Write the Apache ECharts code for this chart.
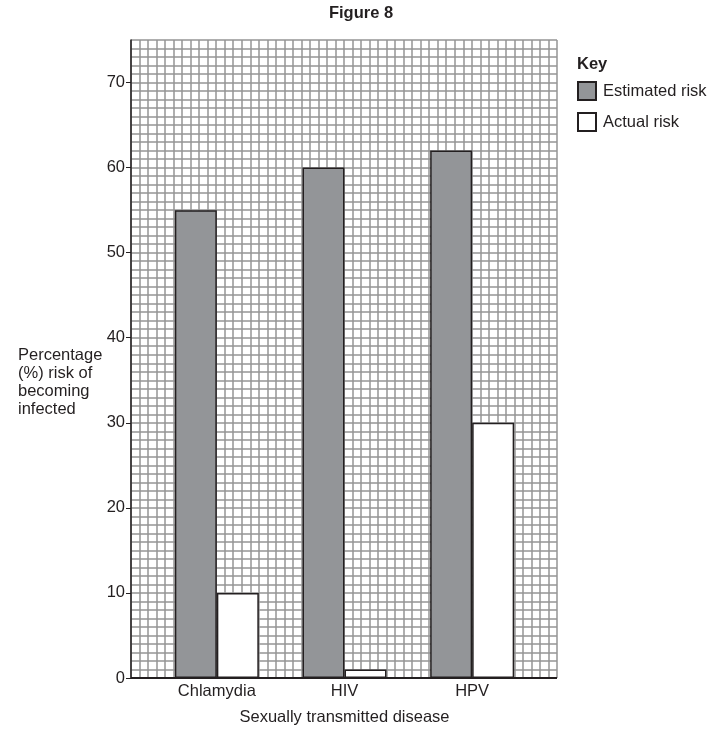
<!DOCTYPE html>
<html>
<head>
<meta charset="utf-8">
<script src="https://cdn.jsdelivr.net/npm/echarts@6/dist/echarts.min.js"></script>
<style>
  html, body { margin: 0; padding: 0; background: #fff; }
  #chart { width: 722px; height: 742px; }
</style>
</head>
<body>
<div id="chart"></div>
<script>
// data
var diseases = ['Chlamydia', 'HIV', 'HPV']
var estimatedRisk = [55, 60, 62]
var actualRisk = [10, 1, 30]
var yTicks = [0, 10, 20, 30, 40, 50, 60, 70]

var font = 'Liberation Sans, Arial, sans-serif'
var chart = echarts.init(document.getElementById('chart'))

chart.setOption({
    backgroundColor: '#fff',
    animation: false,
    title: {
        text: 'Figure 8',
        left: 356,
        top: 0,
        textAlign: 'center',
        textStyle: { fontFamily: font, fontSize: 16.5, fontWeight: 'bold', color: '#231f20' }
    },
    legend: {
        orient: 'vertical',
        left: 577,
        top: 81,
        padding: 0,
        itemWidth: 18,
        itemHeight: 18,
        itemGap: 11,
        icon: 'rect',
        textStyle: { fontFamily: font, fontSize: 16.5, color: '#231f20', padding: [0, 0, 0, 2] },
        data: ['Estimated risk', 'Actual risk']
    },
    graphic: [{
        type: 'text',
        left: 577,
        top: 56,
        style: { text: 'Key', font: 'bold 16.5px ' + font, fill: '#231f20' }
    }, {
        type: 'text',
        left: 18,
        top: 346,
        style: {
            text: 'Percentage\n(%) risk of\nbecoming\ninfected',
            font: '16.5px ' + font,
            lineHeight: 18,
            fill: '#231f20'
        }
    }],
    grid: [
        // graph paper background
        { left: 131, right: 165, top: 40, bottom: 64 },
        // bars
        { left: 153, right: 186, top: 40, bottom: 64 }
    ],
    xAxis: [{
        type: 'value',
        gridIndex: 0,
        min: 0,
        max: 50,
        interval: 1,
        axisLine: { show: false },
        axisTick: { show: false },
        axisLabel: { show: false },
        splitLine: { lineStyle: { color: '#949494', width: 1.5 } }
    }, {
        type: 'category',
        gridIndex: 1,
        data: diseases,
        axisLine: { show: false },
        axisTick: { show: false },
        axisLabel: { fontFamily: font, fontSize: 16.5, color: '#231f20', margin: 5 },
        name: 'Sexually transmitted disease',
        nameLocation: 'middle',
        nameGap: 31,
        nameTextStyle: { fontFamily: font, fontSize: 16.5, color: '#231f20' }
    }],
    yAxis: [{
        type: 'value',
        gridIndex: 0,
        min: 0,
        max: 75,
        interval: 1,
        axisLine: { show: false },
        axisTick: { show: false },
        axisLabel: { show: false },
        splitLine: { lineStyle: { color: '#949494', width: 1.5 } }
    }, {
        type: 'value',
        gridIndex: 1,
        min: 0,
        max: 75,
        interval: 10,
        splitLine: { show: false },
        axisLine: { show: false },
        axisTick: { show: false },
        axisLabel: { show: false }
    }, {
        // left axis with ticks and labels
        type: 'value',
        gridIndex: 0,
        position: 'left',
        offset: 0,
        min: 0,
        max: 75,
        interval: 10,
        splitLine: { show: false },
        axisLine: { show: true, onZero: false, lineStyle: { color: '#231f20', width: 1.5 } },
        axisTick: { show: true, length: 5, customValues: yTicks, lineStyle: { color: '#231f20', width: 1 } },
        axisLabel: {
            fontFamily: font, fontSize: 16.5, color: '#231f20', margin: 6,
            customValues: yTicks
        }
    }],
    series: [{
        name: 'Estimated risk',
        type: 'bar',
        xAxisIndex: 1,
        yAxisIndex: 1,
        barWidth: 42,
        barGap: '0%',
        itemStyle: { color: '#939598', borderColor: '#231f20', borderWidth: 1.5 },
        data: estimatedRisk
    }, {
        name: 'Actual risk',
        type: 'bar',
        xAxisIndex: 1,
        yAxisIndex: 1,
        barWidth: 42,
        barGap: '0%',
        itemStyle: { color: '#ffffff', borderColor: '#231f20', borderWidth: 1.5 },
        data: actualRisk
    }, {
        // baseline along zero
        type: 'line',
        xAxisIndex: 0,
        yAxisIndex: 0,
        symbol: 'none',
        silent: true,
        lineStyle: { color: '#231f20', width: 2 },
        data: [[0, 0], [50, 0]]
    }]
})
</script>
</body>
</html>
